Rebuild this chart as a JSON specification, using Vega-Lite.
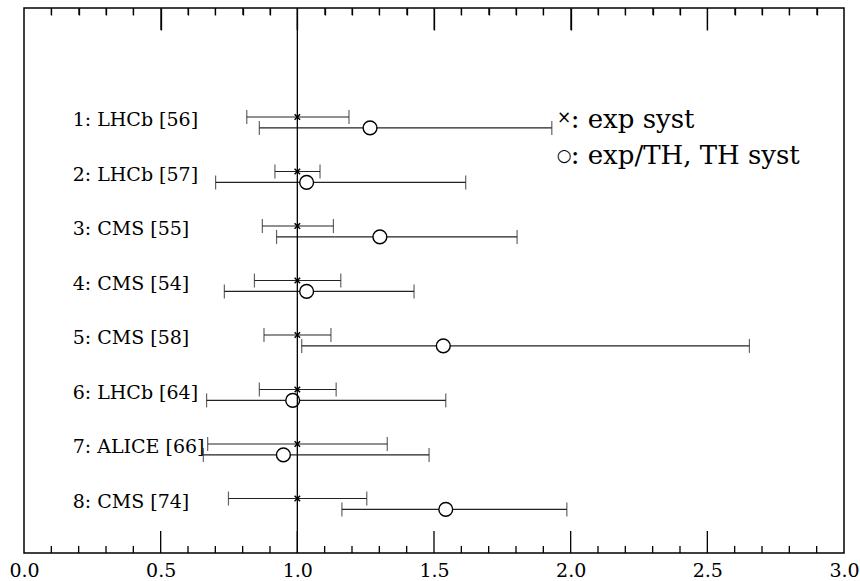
{
  "$schema": "https://vega.github.io/schema/vega-lite/v6.json",
  "width": 820,
  "height": 545,
  "autosize": {"type": "none"},
  "padding": {"left": 24, "top": 8, "right": 16, "bottom": 28},
  "background": "white",
  "config": {
    "view": {"stroke": "black", "strokeWidth": 1.5},
    "axis": {"grid": false, "domain": false, "ticks": false, "labelColor": "black", "labelFont": "DejaVu Serif", "labelFontSize": 19, "title": null}
  },
  "datasets": {
    "meas": [
      {"label": "1: LHCb [56]", "kind": "exp", "y": 2.0, "c": 1.0, "lo": 0.815, "hi": 1.189},
      {"label": "1: LHCb [56]", "kind": "th", "y": 2.2, "c": 1.266, "lo": 0.861, "hi": 1.931},
      {"label": "2: LHCb [57]", "kind": "exp", "y": 3.0, "c": 1.0, "lo": 0.918, "hi": 1.083},
      {"label": "2: LHCb [57]", "kind": "th", "y": 3.2, "c": 1.034, "lo": 0.701, "hi": 1.616},
      {"label": "3: CMS [55]", "kind": "exp", "y": 4.0, "c": 1.0, "lo": 0.872, "hi": 1.132},
      {"label": "3: CMS [55]", "kind": "th", "y": 4.2, "c": 1.302, "lo": 0.924, "hi": 1.804},
      {"label": "4: CMS [54]", "kind": "exp", "y": 5.0, "c": 1.0, "lo": 0.843, "hi": 1.159},
      {"label": "4: CMS [54]", "kind": "th", "y": 5.2, "c": 1.034, "lo": 0.733, "hi": 1.427},
      {"label": "5: CMS [58]", "kind": "exp", "y": 6.0, "c": 1.0, "lo": 0.878, "hi": 1.123},
      {"label": "5: CMS [58]", "kind": "th", "y": 6.2, "c": 1.534, "lo": 1.016, "hi": 2.654},
      {"label": "6: LHCb [64]", "kind": "exp", "y": 7.0, "c": 1.0, "lo": 0.861, "hi": 1.142},
      {"label": "6: LHCb [64]", "kind": "th", "y": 7.2, "c": 0.983, "lo": 0.668, "hi": 1.543},
      {"label": "7: ALICE [66]", "kind": "exp", "y": 8.0, "c": 1.0, "lo": 0.672, "hi": 1.329},
      {"label": "7: ALICE [66]", "kind": "th", "y": 8.2, "c": 0.949, "lo": 0.656, "hi": 1.482},
      {"label": "8: CMS [74]", "kind": "exp", "y": 9.0, "c": 1.0, "lo": 0.748, "hi": 1.254},
      {"label": "8: CMS [74]", "kind": "th", "y": 9.2, "c": 1.543, "lo": 1.163, "hi": 1.986}
    ],
    "legend": [
      {"sym": "×", "text": ": exp syst", "ys": 2.02, "yt": 2.2},
      {"sym": "○", "text": ": exp/TH, TH syst", "ys": 2.72, "yt": 2.86}
    ],
    "major": [{"v": 0.5}, {"v": 1.0}, {"v": 1.5}, {"v": 2.0}, {"v": 2.5}],
    "minor": [
      {"v": 0.1}, {"v": 0.2}, {"v": 0.3}, {"v": 0.4},
      {"v": 0.6}, {"v": 0.7}, {"v": 0.8}, {"v": 0.9},
      {"v": 1.1}, {"v": 1.2}, {"v": 1.3}, {"v": 1.4},
      {"v": 1.6}, {"v": 1.7}, {"v": 1.8}, {"v": 1.9},
      {"v": 2.1}, {"v": 2.2}, {"v": 2.3}, {"v": 2.4},
      {"v": 2.6}, {"v": 2.7}, {"v": 2.8}, {"v": 2.9}
    ]
  },
  "resolve": {"axis": {"x": "independent"}},
  "layer": [
    {
      "data": {"name": "meas"},
      "mark": {"type": "rule", "color": "#222", "strokeWidth": 1.2},
      "encoding": {
        "x": {"field": "lo", "type": "quantitative", "scale": {"domain": [0, 3], "nice": false, "zero": false},
          "axis": {"orient": "bottom", "values": [0, 0.5, 1, 1.5, 2, 2.5, 3], "labelPadding": 8, "format": ".1f", "labelFlush": false}},
        "x2": {"field": "hi"},
        "y": {"field": "y", "type": "quantitative", "scale": {"domain": [0, 10], "reverse": true, "nice": false, "zero": false}, "axis": null}
      }
    },
    {
      "data": {"name": "major"},
      "mark": {"type": "rule", "color": "black", "strokeWidth": 1.3},
      "encoding": {
        "x": {"field": "v", "type": "quantitative", "axis": null},
        "y": {"datum": 10, "type": "quantitative"},
        "y2": {"datum": 9.596}
      }
    },
    {
      "data": {"name": "minor"},
      "mark": {"type": "rule", "color": "black", "strokeWidth": 1.3},
      "encoding": {
        "x": {"field": "v", "type": "quantitative", "axis": null},
        "y": {"datum": 10, "type": "quantitative"},
        "y2": {"datum": 9.872}
      }
    },
    {
      "data": {"name": "major"},
      "mark": {"type": "tick", "orient": "vertical", "color": "black", "size": 22, "thickness": 1.3},
      "encoding": {
        "x": {"field": "v", "type": "quantitative",
          "axis": {"orient": "top", "values": [0.5, 1, 1.5, 2, 2.5], "ticks": true, "tickSize": 22, "offset": -22, "tickColor": "black", "tickWidth": 1.3, "labels": false, "domain": false}},
        "y": {"datum": 0.202, "type": "quantitative"}
      }
    },
    {
      "data": {"name": "minor"},
      "mark": {"type": "tick", "orient": "vertical", "color": "black", "size": 7, "thickness": 1.3},
      "encoding": {
        "x": {"field": "v", "type": "quantitative",
          "axis": {"orient": "top", "values": [0.1, 0.2, 0.3, 0.4, 0.6, 0.7, 0.8, 0.9, 1.1, 1.2, 1.3, 1.4, 1.6, 1.7, 1.8, 1.9, 2.1, 2.2, 2.3, 2.4, 2.6, 2.7, 2.8, 2.9], "ticks": true, "tickSize": 7, "offset": -7, "tickColor": "black", "tickWidth": 1.3, "labels": false, "domain": false}},
        "y": {"datum": 0.064, "type": "quantitative"}
      }
    },
    {
      "data": {"name": "meas"},
      "transform": [{"fold": ["lo", "hi"], "as": ["end", "xv"]}],
      "mark": {"type": "tick", "orient": "vertical", "color": "#222", "size": 14, "thickness": 1.2},
      "encoding": {
        "x": {"field": "xv", "type": "quantitative", "axis": null},
        "y": {"field": "y", "type": "quantitative"}
      }
    },
    {
      "data": {"name": "meas"},
      "transform": [{"filter": "datum.kind === 'exp'"}],
      "mark": {"type": "point", "shape": "M-1,-1L1,1M-1,1L1,-1", "filled": false, "stroke": "black", "strokeWidth": 1.5, "size": 30, "opacity": 1},
      "encoding": {
        "x": {"field": "c", "type": "quantitative", "axis": null},
        "y": {"field": "y", "type": "quantitative"}
      }
    },
    {
      "data": {"name": "meas"},
      "transform": [{"filter": "datum.kind === 'th'"}],
      "mark": {"type": "point", "shape": "circle", "filled": false, "fill": "white", "fillOpacity": 1, "stroke": "black", "strokeWidth": 1.4, "size": 190, "opacity": 1},
      "encoding": {
        "x": {"field": "c", "type": "quantitative", "axis": null},
        "y": {"field": "y", "type": "quantitative"}
      }
    },
    {
      "data": {"name": "meas"},
      "transform": [{"filter": "datum.kind === 'exp'"}],
      "mark": {"type": "text", "align": "left", "baseline": "alphabetic", "dy": 9, "font": "DejaVu Serif", "fontSize": 19, "color": "black"},
      "encoding": {
        "x": {"datum": 0.178, "type": "quantitative", "axis": null},
        "y": {"field": "y", "type": "quantitative"},
        "text": {"field": "label"}
      }
    },
    {
      "data": {"name": "legend"},
      "mark": {"type": "text", "align": "center", "baseline": "middle", "font": "DejaVu Sans", "fontSize": 17, "color": "black"},
      "encoding": {
        "x": {"datum": 1.976, "type": "quantitative", "axis": null},
        "y": {"field": "ys", "type": "quantitative"},
        "text": {"field": "sym"}
      }
    },
    {
      "data": {"name": "legend"},
      "mark": {"type": "text", "align": "left", "baseline": "alphabetic", "font": "DejaVu Serif", "fontSize": 26, "color": "black"},
      "encoding": {
        "x": {"datum": 2.0, "type": "quantitative", "axis": null},
        "y": {"field": "yt", "type": "quantitative"},
        "text": {"field": "text"}
      }
    },
    {
      "data": {"values": [{"v": 1}]},
      "mark": {"type": "rule", "color": "black", "strokeWidth": 1.3},
      "encoding": {
        "x": {"field": "v", "type": "quantitative", "axis": null}
      }
    }
  ]
}
